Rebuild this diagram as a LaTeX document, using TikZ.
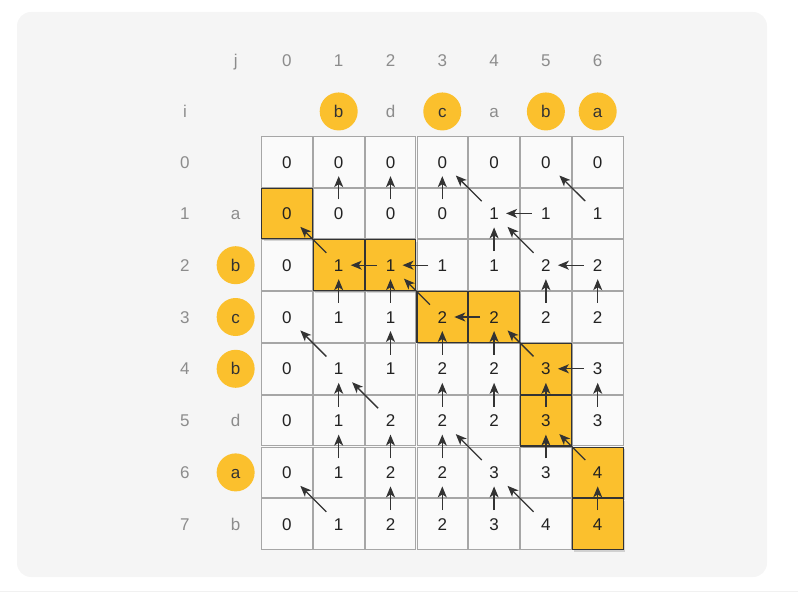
\documentclass[tikz,border=0pt]{standalone}
\usepackage{fontspec}
\setmainfont{Liberation Sans}
\usepackage{tikz}
\usetikzlibrary{matrix,arrows.meta,shadows,backgrounds}

\definecolor{gold}{HTML}{FBC02D}
\definecolor{ink}{HTML}{333333}
\definecolor{num}{HTML}{222222}
\definecolor{mute}{HTML}{8C8C8C}
\definecolor{panel}{HTML}{F5F5F5}
\definecolor{sheet}{HTML}{FAFAFA}
\definecolor{rule}{HTML}{A6A6A6}

\tikzset{
	hit/.style={circle, fill=gold, text=ink, minimum size=38pt},
	hl/.style={fill=gold, draw=ink, line width=1.1pt,
		drop shadow={shadow xshift=2pt, shadow yshift=-2pt, opacity=0.3}},
	trace/.style={draw=ink, line width=1.3pt, -{Stealth[length=11pt,width=9pt,inset=3pt]}},
	goup/.style={shorten <=14pt, shorten >=14pt},
	goleft/.style={shorten <=14pt, shorten >=12pt},
	godiag/.style={shorten <=17.5pt, shorten >=19pt}
}

\begin{document}
\begin{tikzpicture}
			\useasboundingbox (0,0) rectangle (798pt,-593pt);
			\matrix (t) [matrix of nodes, anchor=north west, inner sep=0pt, outer sep=0pt,
				nodes={minimum width=50.7pt, minimum height=50.7pt, inner sep=0pt, outer sep=0pt,
					anchor=center, text height=12.2pt, text depth=0pt,
					font=\fontsize{17}{20}\selectfont, text=num},
				row 1/.style={nodes={text=mute}}, row 2/.style={nodes={text=mute}},
				column 1/.style={nodes={text=mute}}, column 2/.style={nodes={text=mute}}]
				at (159.6pt,-35.4pt)
			{
				& j & 0 & 1 & 2 & 3 & 4 & 5 & 6 \\
				i & & & |[hit]| b & d & |[hit]| c & a & |[hit]| b & |[hit]| a \\
				0 & & 0 & 0 & 0 & 0 & 0 & 0 & 0 \\
				1 & a & |[hl]| 0 & 0 & 0 & 0 & 1 & 1 & 1 \\
				2 & |[hit]| b & 0 & |[hl]| 1 & |[hl]| 1 & 1 & 1 & 2 & 2 \\
				3 & |[hit]| c & 0 & 1 & 1 & |[hl]| 2 & |[hl]| 2 & 2 & 2 \\
				4 & |[hit]| b & 0 & 1 & 1 & 2 & 2 & |[hl]| 3 & 3 \\
				5 & d & 0 & 1 & 2 & 2 & 2 & |[hl]| 3 & 3 \\
				6 & |[hit]| a & 0 & 1 & 2 & 2 & 3 & 3 & |[hl]| 4 \\
				7 & b & 0 & 1 & 2 & 2 & 3 & 4 & |[hl]| 4 \\
			};
			\begin{pgfonlayer}{background}
				\fill[panel, rounded corners=14pt] (17pt,-12pt) rectangle (767pt,-577pt);
				\fill[sheet] (t-3-3.north west) rectangle (t-10-9.south east);
				\foreach \r in {3,...,10}
					\foreach \c in {3,...,9}
						\draw[rule, line width=0.9pt] (t-\r-\c.north west) rectangle (t-\r-\c.south east);
			\end{pgfonlayer}
			\draw[sheet!50!rule!30, line width=1.5pt] (0,-591.5pt) -- (798pt,-591.5pt);
			% traceback: up, left, diagonal
			\foreach \r/\c in {4/4,4/5,4/6,5/7,6/4,6/5,6/8,6/9,7/5,7/6,7/7,8/4,8/6,8/7,8/8,8/9,
					9/4,9/5,9/6,9/8,10/5,10/6,10/7,10/9} {
				\pgfmathtruncatemacro{\p}{\r-1}
				\path (t-\r-\c.center) edge[trace, goup] (t-\p-\c.center);
			}
			\foreach \r/\c in {4/8,5/5,5/6,5/9,6/7,7/9} {
				\pgfmathtruncatemacro{\q}{\c-1}
				\path (t-\r-\c.center) edge[trace, goleft] (t-\r-\q.center);
			}
			\foreach \r/\c in {4/7,4/9,5/4,5/8,6/6,7/4,7/8,8/5,9/7,9/9,10/4,10/8} {
				\pgfmathtruncatemacro{\p}{\r-1}
				\pgfmathtruncatemacro{\q}{\c-1}
				\path (t-\r-\c.center) edge[trace, godiag] (t-\p-\q.center);
			}
		\end{tikzpicture}
\end{document}
